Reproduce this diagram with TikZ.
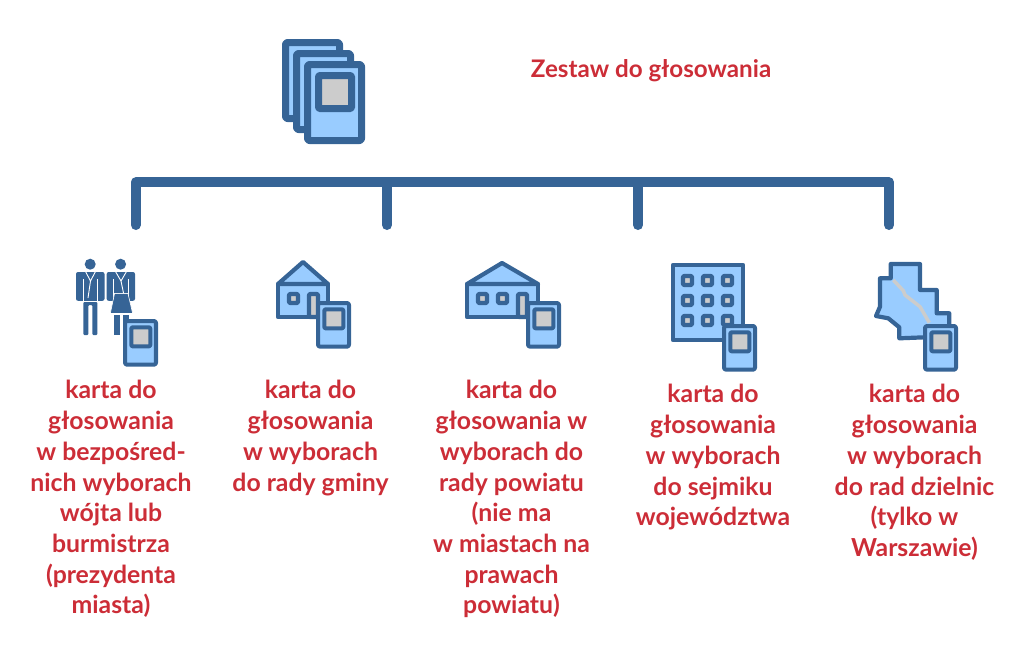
\documentclass[tikz,border=0pt]{standalone}
\usepackage{fontspec}
\setmainfont{Lato}
\definecolor{lineBlue}{RGB}{54, 100, 150}
\definecolor{fillBlue}{RGB}{153, 204, 255}
\definecolor{paneGray}{RGB}{204, 204, 204}
\definecolor{labelRed}{RGB}{204, 45, 55}
\tikzset{
  label/.style={text=labelRed,font=\fontsize{24.8}{30.7}\selectfont\bfseries,align=center,anchor=north},
  bar/.style={lineBlue,line width=10pt,line cap=round,line join=round},
  icon/.style={draw=lineBlue,fill=fillBlue,line width=4.2pt,line join=round},
  pane/.style={draw=lineBlue,fill=paneGray,line width=4.2pt,line join=round,rounded corners=1pt},
  gap/.style={white,line width=1.1pt}
}
% card with its top left corner at (#1,#2)
\newcommand{\ballot}[3]{
  \begin{scope}[shift={(#1,#2)},scale=#3]
    \draw[icon,line width=#3*7pt,rounded corners=2pt] (3.5,3.5) rectangle (57.5,79.5);
    \draw[pane,line width=#3*7pt] (14.5,14.5) rectangle (47.5,47.5);
  \end{scope}
}
\newcommand{\housewindow}[2]{\draw[pane] (#1,#2) rectangle ++(9,9);}
\begin{document}
\begin{tikzpicture}[x=1pt,y=-1pt]
  \useasboundingbox (0,0) rectangle (1024,662);
  % Stack of cards
  \draw[icon,line width=7pt,rounded corners=2pt] (285.5,42.5) rectangle (339.5,118.5);
  \draw[icon,line width=7pt,rounded corners=2pt] (296.5,53.5) rectangle (350.5,129.5);
  \ballot{304}{61}{1}
  \node[label,anchor=center,font=\fontsize{24.2}{30.7}\selectfont\bfseries] (title) at (651,71) {Zestaw do głosowania};

  % Bracket
  \coordinate (busA) at (135.7,182.3);
  \coordinate (busB) at (387,182.3);
  \coordinate (busC) at (638,182.3);
  \coordinate (busD) at (889,182.3);
  \coordinate (dropA) at (135.7,225);
  \coordinate (dropB) at (387,225);
  \coordinate (dropC) at (638,225);
  \coordinate (dropD) at (889,225);
  \draw[bar] (busB) -- (dropB);
  \draw[bar] (busC) -- (dropC);
  \draw[bar] (dropA) -- (busA) -- (busD) -- (dropD);

  % Man
  \fill[lineBlue] (90.2,264.2) circle (5.5);
  \fill[lineBlue,rounded corners=2pt] (76,272) rectangle (104.5,300.8);
  \draw[gap] (83.2,279) -- (83.2,301.5) (97.4,279) -- (97.4,301.5);
  \draw[gap,line width=0.9pt] (85.5,271.5) -- (90.5,281) -- (95.5,271.5) (90.5,281) -- (88,298);
  \fill[lineBlue,rounded corners=1pt] (83.3,335) -- (83.3,302) -- (97.3,302) -- (97.3,335) -- (92.3,335) -- (92.3,305) -- (88.3,305) -- (88.3,335) -- cycle;
  % Woman
  \fill[lineBlue] (120.6,264.2) circle (5.5);
  \fill[lineBlue,rounded corners=2pt] (106.7,272) rectangle (135,300.8);
  \draw[gap] (113.4,279) -- (113.4,301.5) (128.4,279) -- (128.4,301.5);
  \fill[white] (113.4,293) rectangle (128.4,301.5);
  \draw[gap,line width=0.9pt] (115.5,271.5) -- (121,281) -- (126.5,271.5) (121,281) -- (123.5,293);
  \fill[lineBlue,draw=white,line width=0.6pt] (114.5,293.6) -- (128,293.6) -- (132.7,313.5) -- (110.3,313.5) -- cycle;
  \fill[lineBlue] (114.3,315) rectangle (120,335);
  \fill[lineBlue] (123.3,315) rectangle (128.5,325);
  \ballot{123}{319}{0.574}
  \node[label] (cardA) at (111,377) {karta do\\głosowania\\w bezpośred-\\nich wyborach\\wójta lub\\burmistrza\\(prezydenta\\miasta)};

  % Small house
  \draw[icon] (278,284) rectangle (328,317);
  \draw[icon] (278,284) -- (303,262) -- (328,284) -- cycle;
  \housewindow{289}{294}
  \draw[pane] (309,294) rectangle (318,317);
  \ballot{316}{301}{0.574}
  \node[label] (cardB) at (310.5,377) {karta do\\głosowania\\w wyborach\\do rady gminy};

  % Long house
  \draw[icon] (467,284) rectangle (538,317);
  \draw[icon] (467,284) -- (502,263) -- (538,284) -- cycle;
  \housewindow{478}{294}
  \housewindow{498}{294}
  \draw[pane] (518,294) rectangle (527,317);
  \ballot{526}{301}{0.574}
  \node[label] (cardC) at (511.5,377) {karta do\\głosowania w\\wyborach do\\rady powiatu\\(nie ma\\w miastach na\\prawach\\powiatu)};

  % Office block
  \draw[icon] (673,265) rectangle (743,340);
  \foreach \x in {683,703,723} {
    \foreach \y in {276,296,316} {
      \housewindow{\x}{\y}
    }
  }
  \ballot{722}{324}{0.574}
  \node[label] (cardD) at (713,381) {karta do\\głosowania\\w wyborach\\do sejmiku\\województwa};

  % District map
  \draw[icon] (890.7,264) -- (920,264) -- (920,290) -- (936.7,290) -- (936.7,313.3) -- (949.3,313.3) -- (949.3,330) -- (925,337.3) -- (899.3,338.3) -- (899.3,327.3) -- (888.3,318.3) -- (876,316) -- (880,306.7) -- (880,278.3) -- (890.7,278.3) -- cycle;
  \draw[paneGray,line width=3.5pt] (893.3,280) -- (903.3,290.7) -- (905,295) -- (920,306.7) -- (929.3,322.7);
  \ballot{923}{324}{0.574}
  \node[label] (cardE) at (914.5,381) {karta do\\głosowania\\w wyborach\\do rad dzielnic\\(tylko w\\Warszawie)};
\end{tikzpicture}
\end{document}
